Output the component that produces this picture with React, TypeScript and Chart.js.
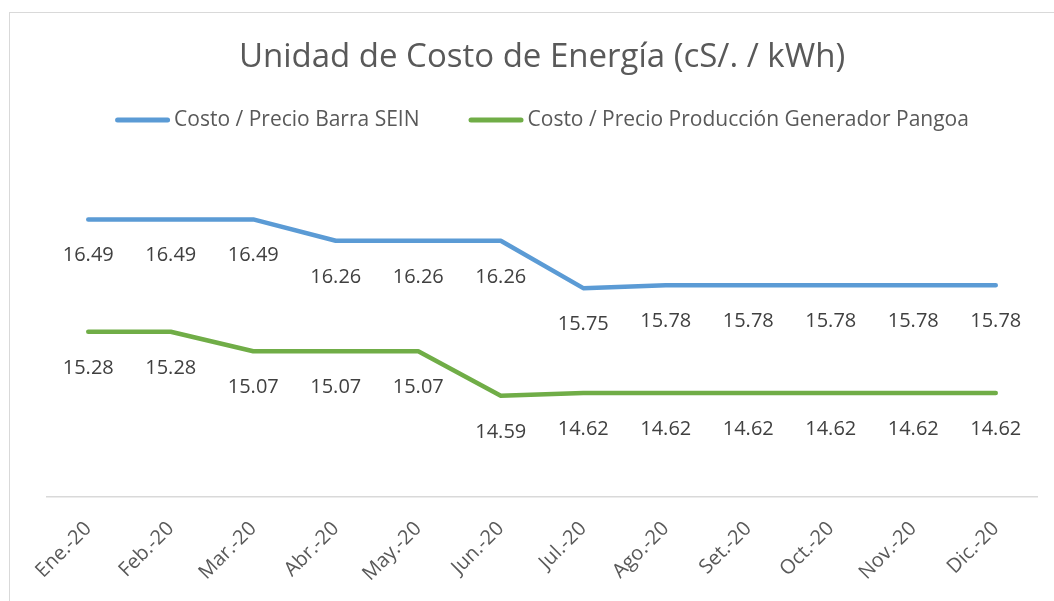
import React, { useEffect, useRef } from "react";
import { Chart, registerables } from "chart.js";

Chart.register(...registerables);

const categories = ["Ene.-20", "Feb.-20", "Mar.-20", "Abr.-20", "May.-20", "Jun.-20", "Jul.-20", "Ago.-20", "Set.-20", "Oct.-20", "Nov.-20", "Dic.-20"];
const seinValues = [16.49, 16.49, 16.49, 16.26, 16.26, 16.26, 15.75, 15.78, 15.78, 15.78, 15.78, 15.78];
const pangoaValues = [15.28, 15.28, 15.07, 15.07, 15.07, 14.59, 14.62, 14.62, 14.62, 14.62, 14.62, 14.62];
const seriesNames = ["Costo / Precio Barra SEIN", "Costo / Precio Producción Generador Pangoa"];
const seriesColors = ["#5B9BD5", "#70AD47"];
const titleText = "Unidad de Costo de Energía (cS/. / kWh)";
const yMin = 13.5;
const yMax = 17;

const FONT = "'Open Sans', 'Noto Sans', sans-serif";

const dataLabelPlugin = {
  id: "dataLabelsBelow",
  afterDatasetsDraw(chart: any) {
    const ctx = chart.ctx;
    ctx.save();
    ctx.font = `20px ${FONT}`;
    ctx.fillStyle = "#404040";
    ctx.textAlign = "center";
    ctx.textBaseline = "alphabetic";
    chart.data.datasets.forEach((ds: any, di: number) => {
      const meta = chart.getDatasetMeta(di);
      meta.data.forEach((pt: any, i: number) => {
        const v = ds.data[i];
        ctx.fillText(Number(v).toFixed(2), pt.x, pt.y + 42);
      });
    });
    ctx.restore();
  },
};

const customLegendPlugin = {
  id: "customLegend",
  afterDraw(chart: any) {
    const ctx = chart.ctx;
    const area = chart.chartArea;
    ctx.save();
    ctx.font = `21px ${FONT}`;
    const sample = 55;
    const gapText = 4;
    const gapItems = 49;
    const items = chart.data.datasets.map((ds: any) => ({
      text: ds.label,
      color: ds.borderColor,
      w: sample + gapText + ctx.measureText(ds.label).width,
    }));
    const total = items.reduce((s: number, it: any) => s + it.w, 0) + gapItems * (items.length - 1);
    let x = (area.left + area.right) / 2 - total / 2;
    const y = 120;
    items.forEach((it: any) => {
      ctx.strokeStyle = it.color;
      ctx.lineWidth = 5;
      ctx.lineCap = "round";
      ctx.beginPath();
      ctx.moveTo(x + 2.5, y);
      ctx.lineTo(x + sample - 2.5, y);
      ctx.stroke();
      ctx.fillStyle = "#595959";
      ctx.textAlign = "left";
      ctx.textBaseline = "middle";
      ctx.fillText(it.text, x + sample + gapText, y);
      x += it.w + gapItems;
    });
    ctx.restore();
  },
};

export default function App() {
  const canvasRef = useRef<HTMLCanvasElement | null>(null);

  useEffect(() => {
    document.body.style.margin = "0";
    const canvas = canvasRef.current;
    if (!canvas) return;
    const chart = new Chart(canvas, {
      type: "line",
      data: {
        labels: categories,
        datasets: [
          {
            label: seriesNames[0],
            data: seinValues,
            borderColor: seriesColors[0],
            backgroundColor: seriesColors[0],
            borderWidth: 4.5,
            pointRadius: 0,
            tension: 0,
            borderCapStyle: "round",
            borderJoinStyle: "round",
          },
          {
            label: seriesNames[1],
            data: pangoaValues,
            borderColor: seriesColors[1],
            backgroundColor: seriesColors[1],
            borderWidth: 4.5,
            pointRadius: 0,
            tension: 0,
            borderCapStyle: "round",
            borderJoinStyle: "round",
          },
        ],
      },
      options: {
        responsive: false,
        animation: false,
        devicePixelRatio: 1,
        layout: { padding: { left: 47, right: 17, top: 0, bottom: 0 } },
        plugins: {
          legend: { display: false },
          tooltip: { enabled: false },
          title: {
            display: true,
            text: titleText,
            color: "#595959",
            font: { family: FONT, size: 33, weight: "normal" },
            padding: { top: 38, bottom: 94.5 },
          },
        },
        scales: {
          x: {
            offset: true,
            grid: { display: false, drawTicks: false },
            border: { display: true, color: "#d9d9d9", width: 1.5 },
            ticks: {
              autoSkip: false,
              minRotation: 45,
              maxRotation: 45,
              padding: 20,
              color: "#595959",
              font: { family: FONT, size: 20 },
            },
            afterFit(scale: any) {
              scale.height = 104;
            },
          },
          y: {
            display: false,
            min: yMin,
            max: yMax,
          },
        },
      },
      plugins: [dataLabelPlugin, customLegendPlugin],
    });
    return () => chart.destroy();
  }, []);

  return (
    <div style={{ position: "relative", width: 1054, height: 601, overflow: "hidden", background: "#ffffff" }}>
      <div
        style={{
          position: "absolute",
          left: 9,
          top: 12,
          width: 1200,
          height: 800,
          borderLeft: "1.5px solid #d9d9d9",
          borderTop: "1.5px solid #d9d9d9",
        }}
      />
      <canvas
        ref={canvasRef}
        width={1054}
        height={601}
        style={{ position: "absolute", left: 0, top: 0, width: 1054, height: 601 }}
      />
    </div>
  );
}
